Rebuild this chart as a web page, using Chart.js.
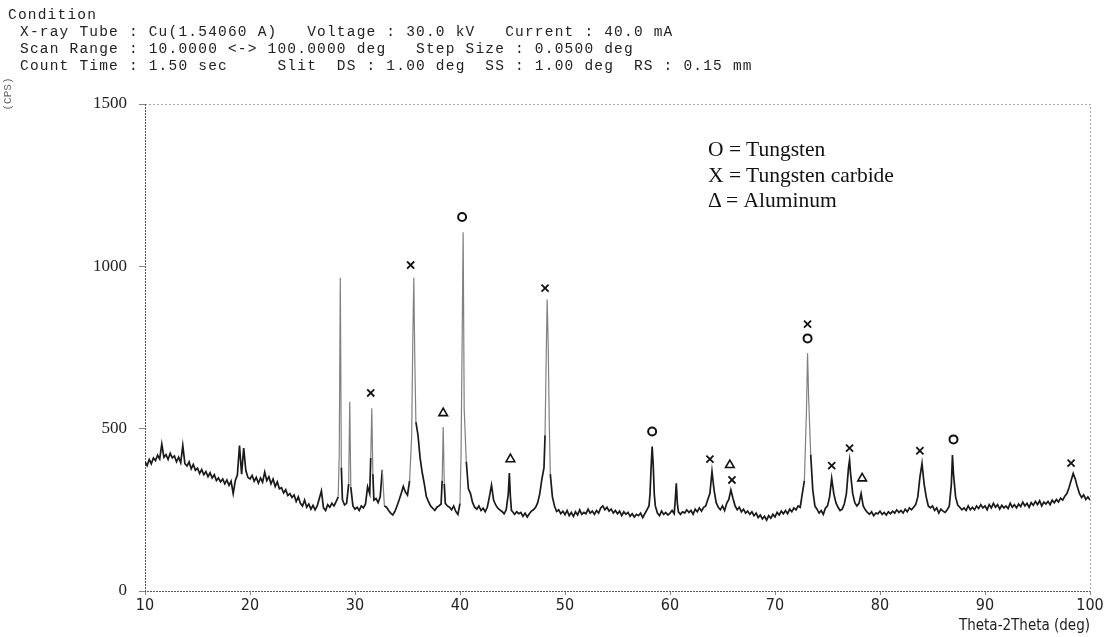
<!DOCTYPE html>
<html>
<head>
<meta charset="utf-8">
<script src="https://cdn.jsdelivr.net/npm/chart.js@4.4.1/dist/chart.umd.min.js"></script>
<style>
  body { margin: 0; background: #fff; }
  #wrap { position: relative; width: 1106px; height: 637px; overflow: hidden; }
  canvas { position: absolute; left: 0; top: 0; }
  .cond {
    position: absolute; white-space: pre; color: #222;
    font-family: "Liberation Mono", "DejaVu Sans Mono", monospace;
    font-size: 14.5px; letter-spacing: 1.2px; line-height: 17px;
  }
  .key {
    position: absolute; left: 708px; white-space: pre; color: #111;
    font-family: "Liberation Serif", "DejaVu Serif", serif;
    font-size: 21.5px; line-height: 25.5px;
  }
  #ylab {
    position: absolute; left: -12px; top: 88px; width: 40px; text-align: center;
    transform: rotate(-90deg); color: #666;
    font-family: "Liberation Mono", monospace; font-size: 11px;
  }
</style>
</head>
<body>
<div id="wrap">
  <canvas id="xrdChart" width="1106" height="637"></canvas>
  <div class="cond" style="left:8px;top:7px;">Condition</div>
  <div class="cond" style="left:20px;top:24px;">X-ray Tube : Cu(1.54060 A)   Voltage : 30.0 kV   Current : 40.0 mA
Scan Range : 10.0000 &lt;-&gt; 100.0000 deg   Step Size : 0.0500 deg
Count Time : 1.50 sec     Slit  DS : 1.00 deg  SS : 1.00 deg  RS : 0.15 mm</div>
  <div class="key" style="top:137px;">O = Tungsten
X = Tungsten carbide
Δ = Aluminum</div>
  <div id="ylab">(CPS)</div>
</div>

<script>
/* ================= SCAN DATA (2theta in deg, intensity in CPS) ================= */
const twoTheta = [
  10.0, 10.2, 10.4, 10.6, 10.8,
  11.0, 11.2, 11.4, 11.6, 11.8,
  12.0, 12.2, 12.4, 12.6, 12.8,
  13.0, 13.2, 13.4, 13.6, 13.8,
  14.0, 14.2, 14.4, 14.6, 14.8,
  15.0, 15.2, 15.4, 15.6, 15.8,
  16.0, 16.2, 16.4, 16.6, 16.8,
  17.0, 17.2, 17.4, 17.6, 17.8,
  18.0, 18.2, 18.4, 18.6, 18.8,
  19.0, 19.2, 19.4, 19.6, 19.8,
  20.0, 20.2, 20.4, 20.6, 20.8,
  21.0, 21.2, 21.4, 21.6, 21.8,
  22.0, 22.2, 22.4, 22.6, 22.8,
  23.0, 23.2, 23.4, 23.6, 23.8,
  24.0, 24.2, 24.4, 24.6, 24.8,
  25.0, 25.2, 25.4, 25.6, 25.8,
  26.0, 26.2, 26.4, 26.6, 26.8,
  27.0, 27.2, 27.4, 27.6, 27.8,
  28.0, 28.2, 28.4, 28.5, 28.6, 28.7, 28.8,
  29.0, 29.2, 29.4, 29.5, 29.6, 29.8,
  30.0, 30.2, 30.4, 30.6, 30.8,
  31.0, 31.2, 31.4, 31.5, 31.6, 31.7, 31.8,
  32.0, 32.2, 32.4, 32.6, 32.8,
  33.0, 33.2, 33.4, 33.6, 33.8,
  34.0, 34.2, 34.4, 34.6, 34.8,
  35.0, 35.2, 35.4, 35.5, 35.6, 35.7, 35.8,
  36.0, 36.2, 36.4, 36.6, 36.8,
  37.0, 37.2, 37.4, 37.6, 37.8,
  38.0, 38.2, 38.3, 38.4, 38.5, 38.6, 38.8,
  39.0, 39.2, 39.4, 39.6, 39.8,
  40.0, 40.1, 40.2, 40.3, 40.4, 40.6, 40.8,
  41.0, 41.2, 41.4, 41.6, 41.8,
  42.0, 42.2, 42.4, 42.6, 42.8,
  43.0, 43.2, 43.4, 43.6, 43.8,
  44.0, 44.2, 44.4, 44.6, 44.7, 44.8, 44.9,
  45.0, 45.2, 45.4, 45.6, 45.8,
  46.0, 46.2, 46.4, 46.6, 46.8,
  47.0, 47.2, 47.4, 47.6, 47.8,
  48.0, 48.1, 48.2, 48.3, 48.4, 48.5, 48.6, 48.8,
  49.0, 49.2, 49.4, 49.6, 49.8,
  50.0, 50.2, 50.4, 50.6, 50.8,
  51.0, 51.2, 51.4, 51.6, 51.8,
  52.0, 52.2, 52.4, 52.6, 52.8,
  53.0, 53.2, 53.4, 53.6, 53.8,
  54.0, 54.2, 54.4, 54.6, 54.8,
  55.0, 55.2, 55.4, 55.6, 55.8,
  56.0, 56.2, 56.4, 56.6, 56.8,
  57.0, 57.2, 57.4, 57.6, 57.8,
  58.0, 58.1, 58.2, 58.3, 58.4, 58.5, 58.6, 58.8,
  59.0, 59.2, 59.4, 59.6, 59.8,
  60.0, 60.2, 60.4, 60.5, 60.6, 60.7, 60.8,
  61.0, 61.2, 61.4, 61.6, 61.8,
  62.0, 62.2, 62.4, 62.6, 62.8,
  63.0, 63.2, 63.4, 63.6, 63.8,
  64.0, 64.2, 64.4, 64.6, 64.8,
  65.0, 65.2, 65.4, 65.6, 65.8,
  66.0, 66.2, 66.4, 66.6, 66.8,
  67.0, 67.2, 67.4, 67.6, 67.8,
  68.0, 68.2, 68.4, 68.6, 68.8,
  69.0, 69.2, 69.4, 69.6, 69.8,
  70.0, 70.2, 70.4, 70.6, 70.8,
  71.0, 71.2, 71.4, 71.6, 71.8,
  72.0, 72.2, 72.4, 72.6, 72.8,
  73.0, 73.1, 73.2, 73.4, 73.6, 73.8,
  74.0, 74.2, 74.4, 74.6, 74.8,
  75.0, 75.2, 75.4, 75.6, 75.8,
  76.0, 76.2, 76.4, 76.6, 76.8,
  77.0, 77.1, 77.2, 77.4, 77.6, 77.8,
  78.0, 78.2, 78.4, 78.6, 78.8,
  79.0, 79.2, 79.4, 79.6, 79.8,
  80.0, 80.2, 80.4, 80.6, 80.8,
  81.0, 81.2, 81.4, 81.6, 81.8,
  82.0, 82.2, 82.4, 82.6, 82.8,
  83.0, 83.2, 83.4, 83.6, 83.8,
  84.0, 84.2, 84.4, 84.6, 84.8,
  85.0, 85.2, 85.4, 85.6, 85.8,
  86.0, 86.2, 86.4, 86.6, 86.8, 86.9,
  87.0, 87.2, 87.4, 87.6, 87.8,
  88.0, 88.2, 88.4, 88.6, 88.8,
  89.0, 89.2, 89.4, 89.6, 89.8,
  90.0, 90.2, 90.4, 90.6, 90.8,
  91.0, 91.2, 91.4, 91.6, 91.8,
  92.0, 92.2, 92.4, 92.6, 92.8,
  93.0, 93.2, 93.4, 93.6, 93.8,
  94.0, 94.2, 94.4, 94.6, 94.8,
  95.0, 95.2, 95.4, 95.6, 95.8,
  96.0, 96.2, 96.4, 96.6, 96.8,
  97.0, 97.2, 97.4, 97.6, 97.8,
  98.0, 98.2, 98.4, 98.6, 98.8,
  99.0, 99.2, 99.4, 99.6, 99.8,
  100.0
];

const cps = [
  398, 386, 405, 392, 410,
  402, 418, 407, 452, 412,
  420, 405, 424, 410, 416,
  398, 412, 395, 448, 392,
  385, 398, 376, 390, 372,
  378, 362, 374, 358, 368,
  352, 364, 348, 358, 340,
  348, 336, 345, 330, 342,
  325, 338, 300, 340, 358,
  448, 360, 440, 372, 350,
  345, 356, 338, 350, 332,
  348, 335, 366, 340, 352,
  330, 345, 322, 336, 315,
  318, 302, 312, 294, 300,
  288, 296, 276, 290, 270,
  262, 280, 258, 268, 252,
  264, 250, 262, 285, 308,
  256, 248, 266, 258, 270,
  262, 275, 290, 420, 965, 380, 282,
  265, 270, 330, 583, 320, 262,
  252, 258, 248, 262, 256,
  268, 321, 300, 410, 563, 360, 280,
  285, 272, 290, 373, 262,
  258, 248, 240, 234, 245,
  262, 280, 300, 322, 305,
  295, 340, 480, 760, 965, 700, 520,
  480, 410, 365, 330, 290,
  275, 262, 255, 248, 258,
  262, 268, 340, 505, 330, 270, 262,
  258, 250, 262, 245, 236,
  270, 420, 760, 1105, 560, 398, 315,
  300, 272, 258, 252, 262,
  248, 255, 244, 258, 290,
  326, 280, 265, 255, 250,
  245, 238, 250, 300, 363, 290, 248,
  245, 236, 244, 238, 242,
  230, 240, 228, 238, 246,
  250, 258, 272, 300, 345,
  380, 480, 700, 898, 760, 520, 360, 290,
  262, 245, 250, 238, 246,
  235, 248, 232, 242, 230,
  244, 234, 250, 236, 242,
  238, 252, 240, 246, 236,
  248, 240, 256, 262, 250,
  258, 246, 252, 240, 248,
  238, 246, 232, 244, 236,
  242, 230, 238, 228, 236,
  232, 240, 226, 238, 250,
  262, 300, 380, 445, 390, 300, 262, 240,
  232, 246, 236, 242, 234,
  240, 248, 238, 280, 332, 270, 244,
  236, 244, 240, 250, 242,
  248, 236, 252, 244, 256,
  246, 258, 262, 282, 300,
  368, 310, 272, 258, 250,
  262, 248, 270, 282, 311,
  285, 262, 250, 258, 244,
  252, 240, 246, 236, 244,
  232, 240, 226, 234, 222,
  230, 218, 232, 224, 236,
  228, 242, 234, 246, 238,
  248, 238, 252, 244, 256,
  250, 262, 258, 300, 340,
  560, 732, 600, 420, 310, 262,
  252, 240, 248, 236, 255,
  262, 290, 347, 300, 272,
  258, 248, 252, 268, 300,
  380, 403, 360, 300, 272, 262,
  270, 300, 262, 250, 242,
  236, 244, 232, 240, 238,
  246, 236, 242, 234, 244,
  238, 246, 240, 250, 242,
  248, 240, 252, 244, 256,
  250, 258, 266, 290, 350,
  393, 330, 290, 262, 256,
  262, 248, 256, 240, 252,
  246, 242, 250, 262, 330, 419,
  360, 290, 265, 258, 250,
  256, 248, 262, 250, 258,
  250, 262, 254, 266, 256,
  262, 250, 266, 256, 270,
  258, 266, 252, 264, 256,
  262, 254, 270, 258, 266,
  256, 268, 260, 274, 262,
  270, 258, 272, 264, 276,
  266, 278, 262, 274, 268,
  276, 266, 280, 272, 282,
  274, 286, 280, 292, 300,
  318, 340, 362, 345, 320,
  300, 288, 296, 282, 290,
  280
];

/* ================= PEAK MARKERS ================= */
const tungstenTheta = [40.2, 58.3, 73.1, 87.0];
const tungstenCps   = [1152, 491, 778, 467];

const carbideTheta = [31.5, 35.3, 48.1, 63.8, 65.9, 73.1, 75.4, 77.1, 83.8, 98.2];
const carbideCps   = [610, 1004, 933, 406, 342, 822, 386, 440, 432, 394];

const aluminumTheta = [38.4, 44.8, 65.7, 78.3];
const aluminumCps   = [548, 406, 388, 347];

/* ================= AXES ================= */
const xTicks = [10, 20, 30, 40, 50, 60, 70, 80, 90, 100];
const yTicks = [0, 500, 1000, 1500];

if (twoTheta.length !== cps.length) {
  console.error("scan arrays differ:", twoTheta.length, cps.length);
}

function points(xs, ys) {
  return xs.map((x, i) => ({ x: x, y: ys[i] }));
}

/* ================= FRAME PLUGIN ================= */
const framePlugin = {
  id: "frame",
  beforeDatasetsDraw(chart) {
    const { ctx, chartArea: a } = chart;
    ctx.save();
    ctx.lineWidth = 1;
    // top + right, faint
    ctx.strokeStyle = "#a8a8a8";
    ctx.setLineDash([2, 2]);
    ctx.beginPath();
    ctx.moveTo(a.left, a.top + 0.5);
    ctx.lineTo(a.right + 0.5, a.top + 0.5);
    ctx.lineTo(a.right + 0.5, a.bottom);
    ctx.stroke();
    // left + bottom, darker
    ctx.strokeStyle = "#555";
    ctx.setLineDash([2, 1]);
    ctx.beginPath();
    ctx.moveTo(a.left + 0.5, a.top);
    ctx.lineTo(a.left + 0.5, a.bottom + 0.5);
    ctx.lineTo(a.right, a.bottom + 0.5);
    ctx.stroke();
    ctx.restore();
  }
};

/* ================= CHART ================= */
new Chart(document.getElementById("xrdChart"), {
  type: "line",
  data: {
    datasets: [
      {
        label: "Scan",
        data: points(twoTheta, cps),
        borderColor: "#1a1a1a",
        borderWidth: 1.7,
        pointRadius: 0,
        tension: 0,
        segment: {
          borderColor: c => Math.abs(c.p1.parsed.y - c.p0.parsed.y) > 110 ? "#808080" : "#1a1a1a",
          borderWidth: c => Math.abs(c.p1.parsed.y - c.p0.parsed.y) > 110 ? 1.2 : 1.7
        },
        order: 2
      },
      {
        type: "scatter",
        label: "O = Tungsten",
        data: points(tungstenTheta, tungstenCps),
        pointStyle: "circle",
        pointRadius: 4,
        borderColor: "#111",
        backgroundColor: "transparent",
        borderWidth: 2,
        order: 1
      },
      {
        type: "scatter",
        label: "X = Tungsten carbide",
        data: points(carbideTheta, carbideCps),
        pointStyle: "crossRot",
        pointRadius: 5,
        borderColor: "#111",
        borderWidth: 1.8,
        order: 1
      },
      {
        type: "scatter",
        label: "Δ = Aluminum",
        data: points(aluminumTheta, aluminumCps),
        pointStyle: "triangle",
        pointRadius: 5,
        borderColor: "#111",
        backgroundColor: "transparent",
        borderWidth: 1.6,
        order: 1
      }
    ]
  },
  options: {
    responsive: false,
    animation: false,
    devicePixelRatio: 1,
    layout: { padding: { left: 0, top: 104, right: 16, bottom: 0 } },
    plugins: {
      legend: { display: false },
      tooltip: { enabled: false }
    },
    scales: {
      x: {
        type: "linear",
        min: 10,
        max: 100,
        afterFit: s => { s.height = 46; },
        afterBuildTicks: s => { s.ticks = xTicks.map(v => ({ value: v })); },
        border: { display: false },
        grid: { drawOnChartArea: false, tickLength: 4, color: "#888" },
        ticks: {
          padding: 1,
          maxRotation: 0,
          color: "#222",
          callback: v => String(v),
          font: { family: "'Liberation Sans Narrow', 'DejaVu Sans Condensed', 'Liberation Sans', sans-serif", size: 16 }
        },
        title: {
          display: true,
          text: "Theta-2Theta (deg)",
          align: "end",
          color: "#222",
          padding: { top: 0, bottom: 2 },
          font: { family: "'Liberation Sans Narrow', 'DejaVu Sans Condensed', 'Liberation Sans', sans-serif", size: 15 }
        }
      },
      y: {
        min: 0,
        max: 1500,
        afterFit: s => { s.width = 145; },
        afterBuildTicks: s => { s.ticks = yTicks.map(v => ({ value: v })); },
        border: { display: false },
        grid: { drawOnChartArea: false, tickLength: 6, color: "#888" },
        ticks: {
          padding: 12,
          color: "#222",
          callback: v => String(v),
          font: { family: "'Liberation Serif', 'DejaVu Serif', serif", size: 17 }
        }
      }
    }
  },
  plugins: [framePlugin]
});
</script>
</body>
</html>
